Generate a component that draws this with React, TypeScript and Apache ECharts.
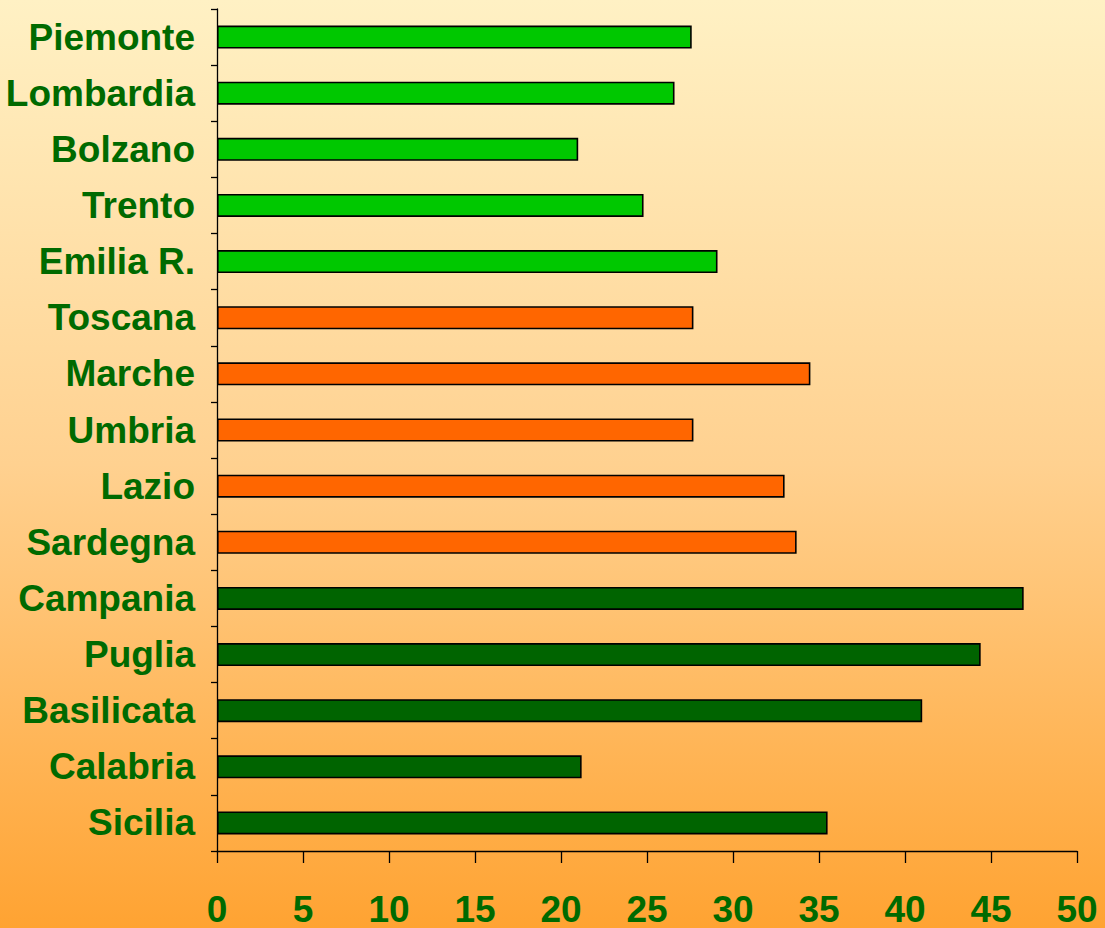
import React, { useEffect, useRef } from "react";
import * as echarts from "echarts";

const categories = [
  "Piemonte", "Lombardia", "Bolzano", "Trento", "Emilia R.",
  "Toscana", "Marche", "Umbria", "Lazio", "Sardegna",
  "Campania", "Puglia", "Basilicata", "Calabria", "Sicilia",
];
const values = [27.6, 26.6, 21.0, 24.8, 29.1, 27.7, 34.5, 27.7, 33.0, 33.7, 46.9, 44.4, 41.0, 21.2, 35.5];
const groups = ["N", "N", "N", "N", "N", "C", "C", "C", "C", "C", "S", "S", "S", "S", "S"];
const groupColors: Record<string, string> = { N: "#00C800", C: "#FF6600", S: "#006400" };
const xTicks = { min: 0, max: 50, interval: 5 };

export default function App() {
  const ref = useRef<HTMLDivElement>(null);
  useEffect(() => {
    if (!ref.current) return;
    const chart = echarts.init(ref.current, undefined, { renderer: "svg" });
    const labelColor = "#006A00";
    chart.setOption({
      animation: false,
      backgroundColor: new echarts.graphic.LinearGradient(0, 0, 0, 1, [
        { offset: 0, color: "#FFF1C4" },
        { offset: 0.5, color: "#FFD190" },
        { offset: 1, color: "#FFA332" },
      ]),
      grid: { left: 217, right: 28, top: 9, bottom: 70, containLabel: false },
      xAxis: {
        type: "value",
        min: xTicks.min,
        max: xTicks.max,
        interval: xTicks.interval,
        splitLine: { show: false },
        axisLine: { show: true, lineStyle: { color: "#000", width: 1.3 } },
        axisTick: { show: true, length: 12, lineStyle: { color: "#000", width: 1.3 } },
        axisLabel: {
          margin: 40,
          color: labelColor,
          fontFamily: "Liberation Sans, Arial, sans-serif",
          fontWeight: "bold",
          fontSize: 37,
          showMaxLabel: true,
        },
      },
      yAxis: {
        type: "category",
        data: categories,
        inverse: true,
        axisLine: { show: true, lineStyle: { color: "#000", width: 1.3 } },
        axisTick: { show: true, length: 6, lineStyle: { color: "#000", width: 1.3 } },
        axisLabel: {
          margin: 22,
          color: labelColor,
          fontFamily: "Liberation Sans, Arial, sans-serif",
          fontWeight: "bold",
          fontSize: 37,
          padding: [0, 0, 4, 0],
        },
      },
      series: [
        {
          type: "bar",
          barWidth: 23,
          data: values.map((v, i) => ({
            value: v,
            itemStyle: { color: groupColors[groups[i]], borderColor: "#000", borderWidth: 1.6 },
          })),
        },
      ],
    });
    return () => chart.dispose();
  }, []);
  return (
    <div
      ref={ref}
      style={{ position: "absolute", left: 0, top: 0, width: 1105, height: 928 }}
    />
  );
}
